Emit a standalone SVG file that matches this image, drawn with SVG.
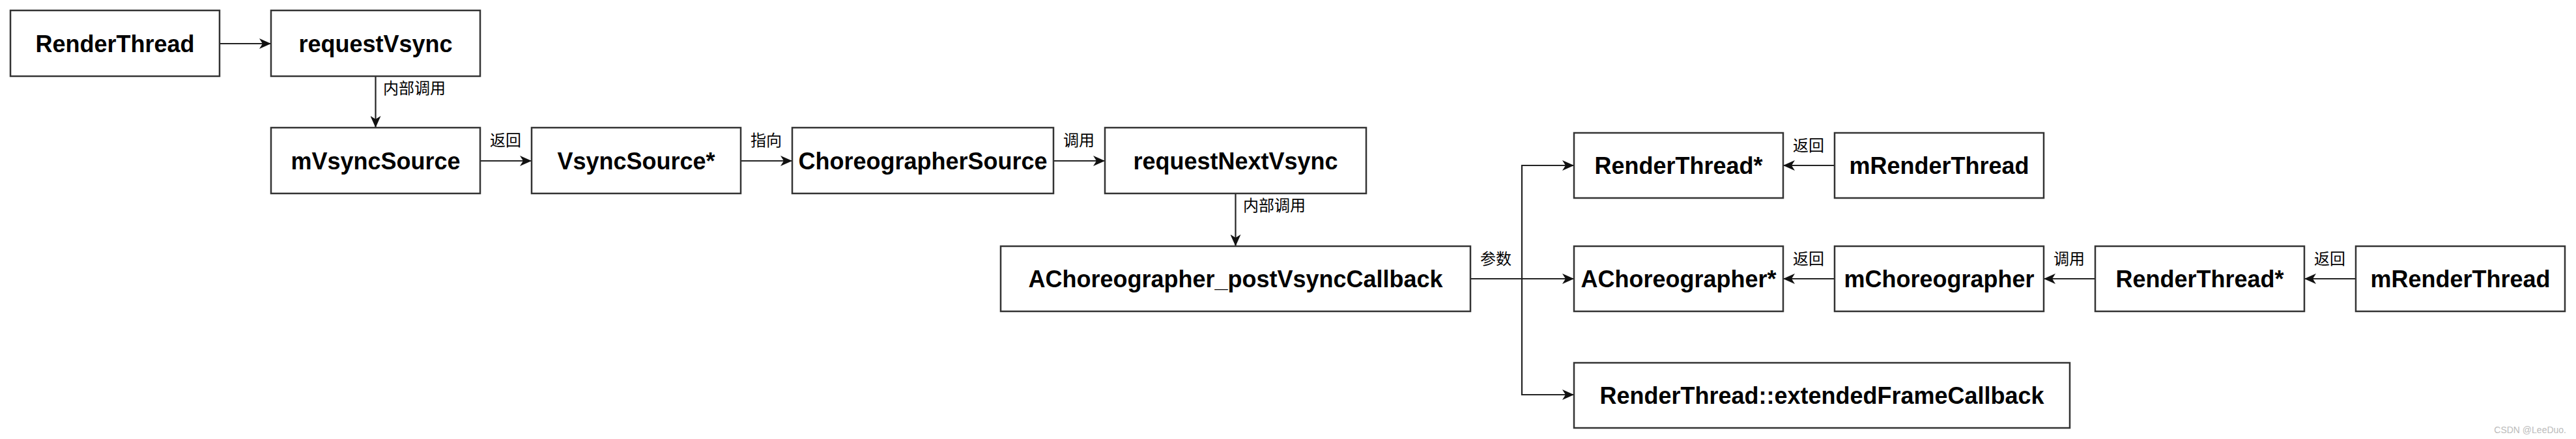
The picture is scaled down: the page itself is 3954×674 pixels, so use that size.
<svg xmlns="http://www.w3.org/2000/svg" width="3954" height="674" viewBox="0 0 3954 674">
<style>
.box{fill:#fff;stroke:#333;stroke-width:2.5}
.t{font-family:"Liberation Sans",Arial,sans-serif;font-weight:bold;font-size:36px;fill:#000;text-anchor:middle}
.lbl{font-family:"Liberation Sans","Noto Sans CJK SC",sans-serif;font-size:24px;fill:#000}
.c{text-anchor:middle}
.e{fill:none;stroke:#222;stroke-width:2.2}
.wm{font-family:"Liberation Sans",sans-serif;font-size:14px;fill:#bbb;text-anchor:end}
</style>
<defs>
<marker id="arr" markerUnits="userSpaceOnUse" markerWidth="20" markerHeight="16" refX="18" refY="8" orient="auto">
<path d="M0,0 L18,8 L0,16 L5,8 Z" fill="#111"/>
</marker>
</defs>
<rect width="3954" height="674" fill="#fff"/>
<g id="connectors">
<path class="e" d="M337,67 H416" marker-end="url(#arr)"/>
<path class="e" d="M576.5,117 V196" marker-end="url(#arr)"/>
<path class="e" d="M737,247 H816" marker-end="url(#arr)"/>
<path class="e" d="M1137,247 H1216" marker-end="url(#arr)"/>
<path class="e" d="M1617,247 H1696" marker-end="url(#arr)"/>
<path class="e" d="M1896.5,297 V378" marker-end="url(#arr)"/>
<path class="e" d="M2257,428 H2416" marker-end="url(#arr)"/>
<path class="e" d="M2257,428 H2336 V254 H2416" marker-end="url(#arr)"/>
<path class="e" d="M2257,428 H2336 V606 H2416" marker-end="url(#arr)"/>
<path class="e" d="M2816,254 H2737" marker-end="url(#arr)"/>
<path class="e" d="M2816,428 H2737" marker-end="url(#arr)"/>
<path class="e" d="M3216,428 H3137" marker-end="url(#arr)"/>
<path class="e" d="M3616,428 H3537" marker-end="url(#arr)"/>
<text class="lbl" x="588" y="144">内部调用</text>
<text class="lbl c" x="776" y="224">返回</text>
<text class="lbl c" x="1176" y="224">指向</text>
<text class="lbl c" x="1656" y="224">调用</text>
<text class="lbl" x="1908" y="324">内部调用</text>
<text class="lbl c" x="2296" y="406">参数</text>
<text class="lbl c" x="2776" y="232">返回</text>
<text class="lbl c" x="2776" y="406">返回</text>
<text class="lbl c" x="3176" y="406">调用</text>
<text class="lbl c" x="3576" y="406">返回</text>
</g>
<g id="n-renderthread"><rect class="box" x="16" y="16" width="321" height="101"/><text class="t" x="176.5" y="80">RenderThread</text></g>
<g id="n-requestvsync"><rect class="box" x="416" y="16" width="321" height="101"/><text class="t" x="576.5" y="80">requestVsync</text></g>
<g id="n-mvsyncsource"><rect class="box" x="416" y="196" width="321" height="101"/><text class="t" x="576.5" y="260">mVsyncSource</text></g>
<g id="n-vsyncsource"><rect class="box" x="816" y="196" width="321" height="101"/><text class="t" x="976.5" y="260">VsyncSource*</text></g>
<g id="n-choreographersource"><rect class="box" x="1216" y="196" width="401" height="101"/><text class="t" x="1416.5" y="260">ChoreographerSource</text></g>
<g id="n-requestnextvsync"><rect class="box" x="1696" y="196" width="401" height="101"/><text class="t" x="1896.5" y="260">requestNextVsync</text></g>
<g id="n-postvsynccallback"><rect class="box" x="1536" y="378" width="721" height="100"/><text class="t" x="1896.5" y="441">AChoreographer_postVsyncCallback</text></g>
<g id="n-renderthreadptr1"><rect class="box" x="2416" y="204" width="321" height="100"/><text class="t" x="2576.5" y="267">RenderThread*</text></g>
<g id="n-mrenderthread1"><rect class="box" x="2816" y="204" width="321" height="100"/><text class="t" x="2976.5" y="267">mRenderThread</text></g>
<g id="n-achoreographerptr"><rect class="box" x="2416" y="378" width="321" height="100"/><text class="t" x="2576.5" y="441">AChoreographer*</text></g>
<g id="n-mchoreographer"><rect class="box" x="2816" y="378" width="321" height="100"/><text class="t" x="2976.5" y="441">mChoreographer</text></g>
<g id="n-renderthreadptr2"><rect class="box" x="3216" y="378" width="321" height="100"/><text class="t" x="3376.5" y="441">RenderThread*</text></g>
<g id="n-mrenderthread2"><rect class="box" x="3616" y="378" width="321" height="100"/><text class="t" x="3776.5" y="441">mRenderThread</text></g>
<g id="n-extendedframecallback"><rect class="box" x="2416" y="557" width="761" height="100"/><text class="t" x="2796.5" y="620">RenderThread::extendedFrameCallback</text></g>
<text class="wm" x="3939" y="665">CSDN @LeeDuo.</text>
</svg>
